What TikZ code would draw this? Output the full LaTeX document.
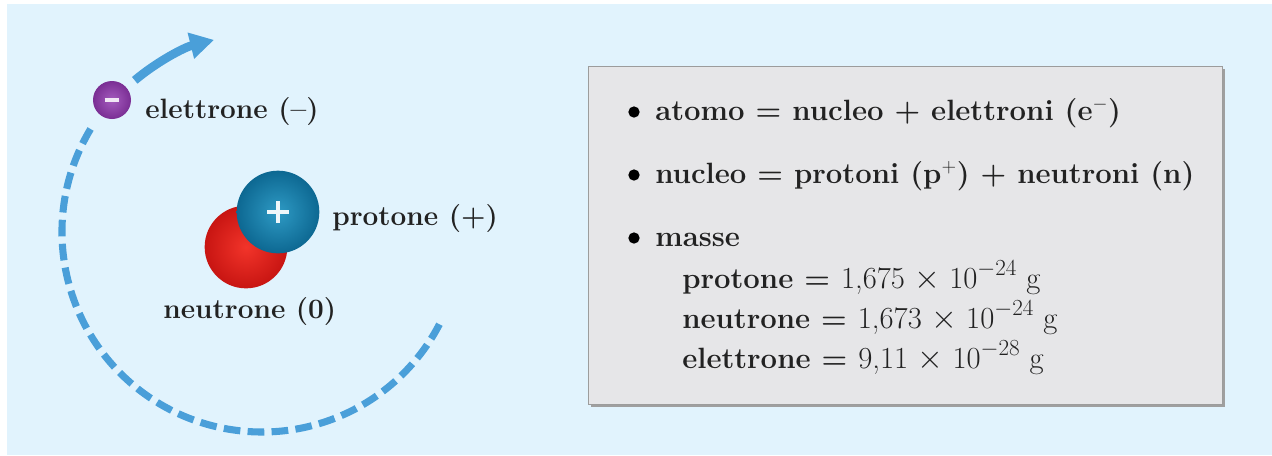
\documentclass[tikz,border=0pt]{standalone}
\usetikzlibrary{arrows.meta,shadings}
\definecolor{bgblue}{HTML}{E1F3FD}
\definecolor{orbitblue}{HTML}{4A9FD9}
\definecolor{protonin}{HTML}{2E9AC4}
\definecolor{protonout}{HTML}{0D6892}
\definecolor{neutronin}{HTML}{F2342A}
\definecolor{neutronout}{HTML}{C81512}
\definecolor{electronin}{HTML}{A55CBE}
\definecolor{electronout}{HTML}{7A2E94}
\definecolor{boxgray}{HTML}{E6E6E8}
\definecolor{boxedge}{HTML}{9C9C9C}
\definecolor{ink}{HTML}{222222}
\tikzset{
  lbl/.style={inner sep=0pt, anchor=base west, text=ink,
              font=\fontsize{21}{25}\selectfont\bfseries},
  txt/.style={inner sep=0pt, anchor=base west, text=ink,
              font=\fontsize{22}{26}\selectfont\bfseries},
  orbit/.style={draw=orbitblue, line width=5.3pt, dash pattern=on 12.5pt off 5.5pt},
  motion/.style={draw=orbitblue, line width=6.5pt,
                 -{Triangle[length=18pt, width=19pt]}},
  particle/.style={circle, inner sep=0pt},
  bulletdot/.style={circle, fill=black, inner sep=0pt, minimum size=8.5pt},
  num/.style={},
}
\newcommand{\massval}[1]{{\mdseries\fontsize{23}{26}\selectfont #1}}
\begin{document}
\begin{tikzpicture}[x=0.75pt, y=-0.75pt]
\useasboundingbox (0,0) rectangle (1272,455);
\fill[white] (0,0) rectangle (1272,455);
\fill[bgblue] (7,4) rectangle (1272,455);

% electron orbit and direction of motion
\coordinate (orbc) at (262,232);
\draw[orbit] (orbc) ++(-149:200) arc[start angle=-149, end angle=-334, radius=200];
\draw[motion] (orbc) ++(-130:198) arc[start angle=-130, end angle=-104, radius=198];

% nucleus: neutron behind proton
\node[particle, minimum size=62pt, inner color=neutronin, outer color=neutronout] (neutron) at (246,247) {};
\node[particle, minimum size=62pt, inner color=protonin, outer color=protonout] (proton) at (278,212) {};
\draw[white!92!protonin, line width=2.6pt] ([xshift=-8pt]proton.center) -- ([xshift=8pt]proton.center);
\draw[white!92!protonin, line width=2.6pt] ([yshift=-8pt]proton.center) -- ([yshift=8pt]proton.center);

% electron
\node[particle, minimum size=28.5pt, inner color=electronin, outer color=electronout] (electron) at (112,100) {};
\draw[white!85!electronin, line width=2.4pt] ([xshift=-5.5pt]electron.center) -- ([xshift=5.5pt]electron.center);

% particle labels
\node[lbl] (elab) at (145,118) {elettrone (–)};
\node[lbl] (plab) at (332,225) {protone (+)};
\node[lbl] (nlab) at (163,318) {neutrone (0)};

% summary box
\fill[gray!75] (591,69) rectangle (1225,407);
\node[draw=boxedge, fill=boxgray, line width=0.8pt, inner sep=0pt,
      minimum width=475.5pt, minimum height=253.5pt, anchor=north west] (box) at (588,66) {};

\node[bulletdot] (b1) at (634,112) {};
\node[bulletdot] (b2) at (634,175) {};
\node[bulletdot] (b3) at (634,238) {};
\node[txt] (t1) at (655,120) {atomo = nucleo + elettroni (e$^{-}$)};
\node[txt] (t2) at (655,183) {nucleo = protoni (p$^{+}$) + neutroni (n)};
\node[txt] (t3) at (655,246) {masse};
\node[txt] (m1) at (682,288) {protone = \massval{1,675 $\times$ 10$^{-24}$ g}};
\node[txt] (m2) at (682,328) {neutrone = \massval{1,673 $\times$ 10$^{-24}$ g}};
\node[txt] (m3) at (682,368) {elettrone = \massval{9,11 $\times$ 10$^{-28}$ g}};
\end{tikzpicture}
\end{document}
